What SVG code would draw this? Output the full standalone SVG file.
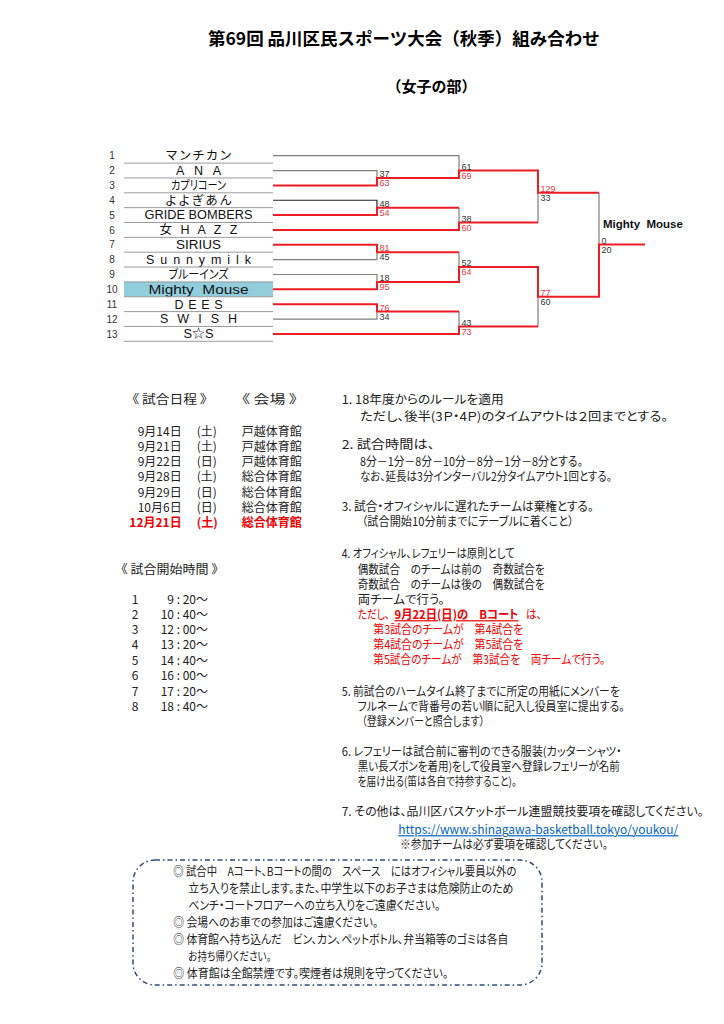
<svg xmlns="http://www.w3.org/2000/svg" width="724" height="1024" viewBox="0 0 724 1024">
<style>
text{font-family:"Noto Sans CJK JP","Liberation Sans",sans-serif;fill:#222;}
.jp{font-size:12px;font-feature-settings:"palt" 1;}
.title{font-size:17.5px;font-weight:bold;fill:#000;}
.sub{font-size:15px;font-weight:bold;fill:#000;}
.num{font-family:"Liberation Sans",sans-serif;font-size:10px;text-anchor:middle;fill:#333;}
.team{font-family:"Liberation Sans","Noto Sans CJK JP",sans-serif;font-size:12.5px;text-anchor:middle;fill:#111;font-feature-settings:"palt" 1;}
.sc{font-family:"Liberation Sans",sans-serif;font-size:9px;fill:#333;}
.scr{font-family:"Liberation Sans",sans-serif;font-size:9px;fill:#e8383d;}
.g{fill:none;stroke:#7f7f7f;stroke-width:1.2;}
.r{fill:none;stroke:#ee1c25;stroke-width:2;}
.sep{stroke:#9a9a9a;stroke-width:1;}
.red{fill:#f00000;}
.bold{font-weight:bold;}
.link{fill:#0563c1;text-decoration:underline;}
</style>

<g id="title">
<text class="title" x="208" y="44.5">第69回 品川区民スポーツ大会（秋季）組み合わせ</text>
<text class="sub" x="386.5" y="92">（女子の部）</text>
</g>

<g id="teams">
<rect x="124" y="282" width="149" height="14.8" fill="#92cddc"/>
<g id="team1"><text class="num" x="112" y="159.3">1</text><text class="team" x="198.5" y="160" textLength="65">マ ン チ カ ン</text></g>
<g id="team2"><text class="num" x="112" y="174.1">2</text><text class="team" x="198.5" y="174.9" textLength="45">A N A</text></g>
<g id="team3"><text class="num" x="112" y="189">3</text><text class="team" x="198.5" y="189.7" textLength="55" lengthAdjust="spacingAndGlyphs">カプリコーン</text></g>
<g id="team4"><text class="num" x="112" y="203.8">4</text><text class="team" x="198.5" y="204.6" textLength="66">よ よ ぎ あ ん</text></g>
<g id="team5"><text class="num" x="112" y="218.7">5</text><text class="team" x="198.5" y="219.4" textLength="108" lengthAdjust="spacingAndGlyphs">GRIDE BOMBERS</text></g>
<g id="team6"><text class="num" x="112" y="233.5">6</text><text class="team" x="198.5" y="234.3" textLength="78">女 H A Z Z</text></g>
<g id="team7"><text class="num" x="112" y="248.4">7</text><text class="team" x="198.5" y="249.1" textLength="45" lengthAdjust="spacingAndGlyphs">SIRIUS</text></g>
<g id="team8"><text class="num" x="112" y="263.2">8</text><text class="team" x="198.5" y="264" textLength="105">S u n n y  m i l k</text></g>
<g id="team9"><text class="num" x="112" y="278.1">9</text><text class="team" x="198.5" y="278.8" textLength="60" lengthAdjust="spacingAndGlyphs">ブルーインズ</text></g>
<g id="team10"><text class="num" x="112" y="292.9">10</text><text class="team" x="198.5" y="293.7" textLength="100" lengthAdjust="spacingAndGlyphs" style="white-space:pre">Mighty  Mouse</text></g>
<g id="team11"><text class="num" x="112" y="307.8">11</text><text class="team" x="198.5" y="308.5" textLength="48">D E E S</text></g>
<g id="team12"><text class="num" x="112" y="322.6">12</text><text class="team" x="198.5" y="323.4" textLength="77">S W I S H</text></g>
<g id="team13"><text class="num" x="112" y="337.5">13</text><text class="team" x="198.5" y="338.2" textLength="30" lengthAdjust="spacingAndGlyphs">S☆S</text></g>
<g id="separators">
<line class="sep" x1="124" y1="163.1" x2="273" y2="163.1"/>
<line class="sep" x1="124" y1="177.95" x2="273" y2="177.95"/>
<line class="sep" x1="124" y1="192.8" x2="273" y2="192.8"/>
<line class="sep" x1="124" y1="207.65" x2="273" y2="207.65"/>
<line class="sep" x1="124" y1="222.5" x2="273" y2="222.5"/>
<line class="sep" x1="124" y1="237.35" x2="273" y2="237.35"/>
<line class="sep" x1="124" y1="252.2" x2="273" y2="252.2"/>
<line class="sep" x1="124" y1="267.05" x2="273" y2="267.05"/>
<line class="sep" x1="124" y1="281.9" x2="273" y2="281.9"/>
<line class="sep" x1="124" y1="296.75" x2="273" y2="296.75"/>
<line class="sep" x1="124" y1="311.6" x2="273" y2="311.6"/>
<line class="sep" x1="124" y1="326.45" x2="273" y2="326.45"/>
<line class="sep" x1="124" y1="341.3" x2="273" y2="341.3"/>
</g>
</g>

<g id="connectors">
<path class="g" d="M273,155.7 H459 V170.6"/>
<path class="g" d="M273,170.55 H377 V178"/>
<path class="g" style="stroke:#222" d="M273,200.25 H377 V207.7"/>
<path class="g" d="M459,207.7 V222.5"/>
<path class="g" d="M538,192.7 V222.5"/>
<path class="g" d="M273,259.65 H377 V252.2"/>
<path class="g" d="M273,274.5 H377 V281.9"/>
<path class="g" d="M459,252.2 V267.05"/>
<path class="g" d="M273,319.05 H377 V311.6"/>
<path class="g" d="M459,311.6 V326.5"/>
<path class="g" d="M538,296.8 V326.5"/>
<path class="g" d="M599,192.7 V244.5"/>
<path class="r" d="M273,185.4 H377 V178 H459 V170.6 H538 V192.7 H599"/>
<path class="r" d="M273,215.1 H377 V207.7 H459"/>
<path class="r" d="M273,229.95 H459 V222.5 H538"/>
<path class="r" d="M273,244.8 H377 V252.2 H459"/>
<path class="r" d="M273,289.35 H377 V281.9 H459 V267.05 H538 V296.8 H599 V244.5 H645"/>
<path class="r" d="M273,304.2 H377 V311.6 H459"/>
<path class="r" d="M273,333.9 H459 V326.5 H538"/>
</g>

<g id="scores">
<text class="sc" x="379.5" y="177">37</text><text class="scr" x="379.5" y="186">63</text>
<text class="sc" x="379.5" y="206.7">48</text><text class="scr" x="379.5" y="215.7">54</text>
<text class="scr" x="379.5" y="251.2">81</text><text class="sc" x="379.5" y="260.2">45</text>
<text class="sc" x="379.5" y="280.9">18</text><text class="scr" x="379.5" y="289.9">95</text>
<text class="scr" x="379.5" y="310.6">76</text><text class="sc" x="379.5" y="319.6">34</text>
<text class="sc" x="461.5" y="169.6">61</text><text class="scr" x="461.5" y="178.6">69</text>
<text class="sc" x="461.5" y="221.5">38</text><text class="scr" x="461.5" y="230.5">60</text>
<text class="sc" x="461.5" y="266">52</text><text class="scr" x="461.5" y="275">64</text>
<text class="sc" x="461.5" y="325.5">43</text><text class="scr" x="461.5" y="334.5">73</text>
<text class="scr" x="540.5" y="191.7">129</text><text class="sc" x="540.5" y="200.7">33</text>
<text class="scr" x="540.5" y="295.8">77</text><text class="sc" x="540.5" y="304.8">60</text>
<text class="sc" x="601.5" y="243.5">0</text><text class="sc" x="601.5" y="252.5">20</text>
</g>

<g id="winner">
<text x="603" y="228" style="font-family:'Liberation Sans',sans-serif;font-size:11.5px;font-weight:bold;fill:#111;white-space:pre">Mighty  Mouse</text>
</g>

<g id="schedule">
<text class="jp" x="132" y="404" textLength="75" lengthAdjust="spacingAndGlyphs">《 試合日程 》</text>
<text class="jp" x="242" y="404" textLength="55" lengthAdjust="spacingAndGlyphs">《 会場 》</text>
<text class="jp" x="181.7" y="436" text-anchor="end">9月14日</text><text class="jp" x="196.7" y="436">(土)</text><text class="jp" x="241.7" y="436">戸越体育館</text>
<text class="jp" x="181.7" y="451" text-anchor="end">9月21日</text><text class="jp" x="196.7" y="451">(土)</text><text class="jp" x="241.7" y="451">戸越体育館</text>
<text class="jp" x="181.7" y="466" text-anchor="end">9月22日</text><text class="jp" x="196.7" y="466">(日)</text><text class="jp" x="241.7" y="466">戸越体育館</text>
<text class="jp" x="181.7" y="481" text-anchor="end">9月28日</text><text class="jp" x="196.7" y="481">(土)</text><text class="jp" x="241.7" y="481">総合体育館</text>
<text class="jp" x="181.7" y="496.5" text-anchor="end">9月29日</text><text class="jp" x="196.7" y="496.5">(日)</text><text class="jp" x="241.7" y="496.5">総合体育館</text>
<text class="jp" x="181.7" y="511.5" text-anchor="end">10月6日</text><text class="jp" x="196.7" y="511.5">(日)</text><text class="jp" x="241.7" y="511.5">総合体育館</text>
<text class="jp red bold" x="181.7" y="527" text-anchor="end">12月21日</text><text class="jp red bold" x="196.7" y="527">(土)</text><text class="jp red bold" x="241.7" y="527">総合体育館</text>
</g>

<g id="times">
<text class="jp" x="121" y="574" textLength="97" lengthAdjust="spacingAndGlyphs">《 試合開始時間 》</text>
<text class="jp" x="135" y="604" text-anchor="middle">1</text><text class="jp" x="208" y="604" text-anchor="end">9 : 20～</text>
<text class="jp" x="135" y="619" text-anchor="middle">2</text><text class="jp" x="208" y="619" text-anchor="end">10 : 40～</text>
<text class="jp" x="135" y="634" text-anchor="middle">3</text><text class="jp" x="208" y="634" text-anchor="end">12 : 00～</text>
<text class="jp" x="135" y="649" text-anchor="middle">4</text><text class="jp" x="208" y="649" text-anchor="end">13 : 20～</text>
<text class="jp" x="135" y="665" text-anchor="middle">5</text><text class="jp" x="208" y="665" text-anchor="end">14 : 40～</text>
<text class="jp" x="135" y="680" text-anchor="middle">6</text><text class="jp" x="208" y="680" text-anchor="end">16 : 00～</text>
<text class="jp" x="135" y="696" text-anchor="middle">7</text><text class="jp" x="208" y="696" text-anchor="end">17 : 20～</text>
<text class="jp" x="135" y="711" text-anchor="middle">8</text><text class="jp" x="208" y="711" text-anchor="end">18 : 40～</text>
</g>

<g id="rules">
<text class="jp" x="341.7" y="404.2" textLength="162" lengthAdjust="spacingAndGlyphs">1. 18年度からのルールを適用</text>
<text class="jp" x="360" y="421" textLength="308" lengthAdjust="spacingAndGlyphs">ただし、後半(3Ｐ・4Ｐ)のタイムアウトは２回までとする。</text>
<text class="jp" x="341.7" y="449.2" textLength="93" lengthAdjust="spacingAndGlyphs">2. 試合時間は、</text>
<text class="jp" x="360" y="466" textLength="223" lengthAdjust="spacingAndGlyphs">8分－1分－8分－10分－8分－1分－8分とする。</text>
<text class="jp" x="360" y="481" textLength="252" lengthAdjust="spacingAndGlyphs">なお、延長は3分インターバル2分タイムアウト1回とする。</text>
<text class="jp" x="341.7" y="511" textLength="252" lengthAdjust="spacingAndGlyphs">3. 試合・オフィシャルに遅れたチームは棄権とする。</text>
<text class="jp" x="361.7" y="526" textLength="212" lengthAdjust="spacingAndGlyphs">（試合開始10分前までにテーブルに着くこと）</text>
<text class="jp" x="341.7" y="558.2" textLength="173" lengthAdjust="spacingAndGlyphs">4. オフィシャル、レフェリーは原則として</text>
<text class="jp" x="357.7" y="573.5" textLength="187" lengthAdjust="spacingAndGlyphs">偶数試合　のチームは前の　奇数試合を</text>
<text class="jp" x="357.7" y="588.5" textLength="187" lengthAdjust="spacingAndGlyphs">奇数試合　のチームは後の　偶数試合を</text>
<text class="jp" x="357.7" y="603.5" textLength="87" lengthAdjust="spacingAndGlyphs">両チームで行う。</text>
<text class="jp red" x="357.7" y="619.2" textLength="32" lengthAdjust="spacingAndGlyphs">ただし、</text>
<text class="jp red bold" x="394.5" y="619.2" textLength="124" lengthAdjust="spacingAndGlyphs" style="text-decoration:underline">9月22日(日)の　Bコート</text>
<text class="jp red" x="526" y="619.2" textLength="16" lengthAdjust="spacingAndGlyphs">は、</text>
<text class="jp red" x="373.3" y="634.2" textLength="150" lengthAdjust="spacingAndGlyphs">第3試合のチームが　第4試合を</text>
<text class="jp red" x="373.3" y="649.2" textLength="150" lengthAdjust="spacingAndGlyphs">第4試合のチームが　第5試合を</text>
<text class="jp red" x="373.3" y="664.2" textLength="232" lengthAdjust="spacingAndGlyphs">第5試合のチームが　第3試合を　両チームで行う。</text>
<text class="jp" x="341.7" y="696" textLength="278" lengthAdjust="spacingAndGlyphs">5. 前試合のハームタイム終了までに所定の用紙にメンバーを</text>
<text class="jp" x="357.7" y="711" textLength="267" lengthAdjust="spacingAndGlyphs">フルネームで背番号の若い順に記入し役員室に提出する。</text>
<text class="jp" x="361.7" y="726" textLength="123" lengthAdjust="spacingAndGlyphs">（登録メンバーと照合します）</text>
<text class="jp" x="341.7" y="756" textLength="280" lengthAdjust="spacingAndGlyphs">6. レフェリーは試合前に審判のできる服装(カッターシャツ・</text>
<text class="jp" x="357.7" y="771" textLength="262" lengthAdjust="spacingAndGlyphs">黒い長ズボンを着用)をして役員室へ登録レフェリーが名前</text>
<text class="jp" x="357.7" y="786" textLength="159" lengthAdjust="spacingAndGlyphs">を届け出る(笛は各自で持参すること)。</text>
<text class="jp" x="341.7" y="816" textLength="362" lengthAdjust="spacingAndGlyphs">7. その他は、品川区バスケットボール連盟競技要項を確認してください。</text>
<text class="jp link" x="398.3" y="834.2" textLength="280">https://www.shinagawa-basketball.tokyo/youkou/</text>
<text class="jp" x="400" y="849.2" textLength="208" lengthAdjust="spacingAndGlyphs">※参加チームは必ず要項を確認してください。</text>
</g>

<g id="notice">
<rect x="133" y="860" width="409" height="125" rx="22" ry="22" fill="none" stroke="#2f4b7c" stroke-width="1.5" stroke-dasharray="5 3 1.5 3"/>
<text class="jp" x="173.3" y="876" textLength="343" lengthAdjust="spacingAndGlyphs">◎ 試合中　Aコート、Bコートの間の　スペース　にはオフィシャル要員以外の</text>
<text class="jp" x="188.3" y="892.5" textLength="325" lengthAdjust="spacingAndGlyphs">立ち入りを禁止します。また、中学生以下のお子さまは危険防止のため</text>
<text class="jp" x="188.3" y="910" textLength="252" lengthAdjust="spacingAndGlyphs">ベンチ・コートフロアーへの立ち入りをご遠慮ください。</text>
<text class="jp" x="173.3" y="927" textLength="205" lengthAdjust="spacingAndGlyphs">◎ 会場へのお車での参加はご遠慮ください。</text>
<text class="jp" x="173.3" y="944" textLength="335" lengthAdjust="spacingAndGlyphs">◎ 体育館へ持ち込んだ　ビン、カン、ペットボトル、弁当箱等のゴミは各自</text>
<text class="jp" x="188.3" y="961" textLength="83" lengthAdjust="spacingAndGlyphs">お持ち帰りください。</text>
<text class="jp" x="173.3" y="978" textLength="275" lengthAdjust="spacingAndGlyphs">◎ 体育館は全館禁煙です。喫煙者は規則を守ってください。</text>
</g>
</svg>
